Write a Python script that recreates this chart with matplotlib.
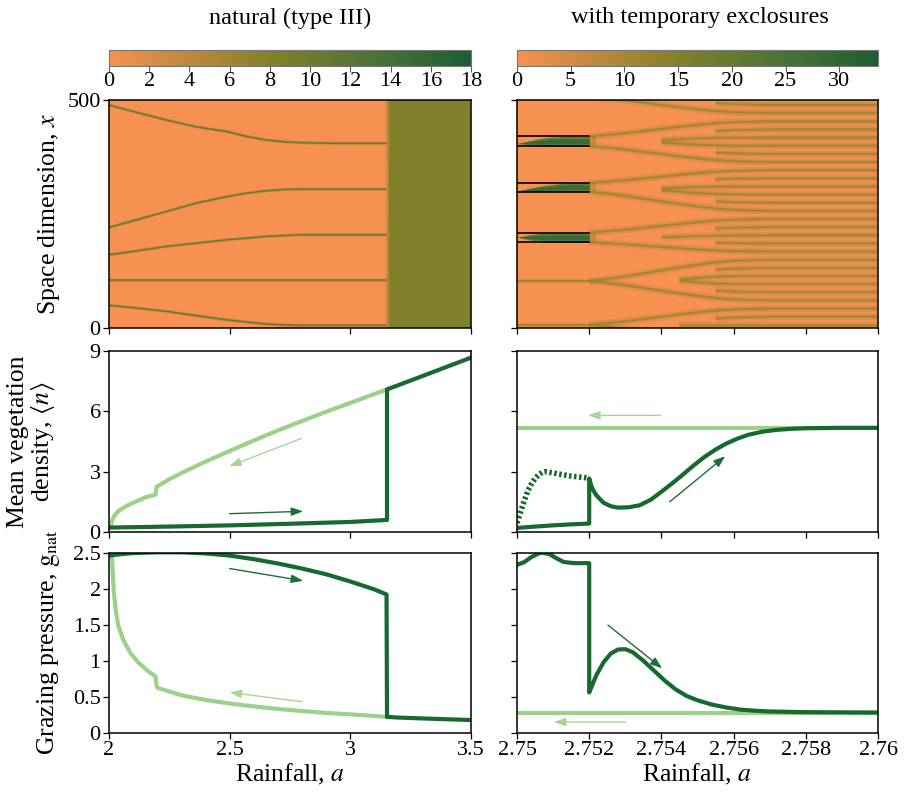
import numpy as np
import matplotlib
matplotlib.use('Agg')
import matplotlib.pyplot as plt
from matplotlib.colors import LinearSegmentedColormap, Normalize
from matplotlib.cm import ScalarMappable
from matplotlib.ticker import FuncFormatter

plt.rcParams['font.family'] = ['Liberation Serif', 'DejaVu Serif']
plt.rcParams['mathtext.fontset'] = 'stix'

N = np.nan
# ---------------- data ----------------
titles = ["natural (type III)", "with temporary exclosures"]
cbar_ticks_L = [0, 2, 4, 6, 8, 10, 12, 14, 16, 18]
cbar_max_L = 18
cbar_ticks_R = [0, 5, 10, 15, 20, 25, 30]
cbar_max_R = 33.6

# left heatmap: stripe tracks (rainfall a, position x)
stripe_a_L = [2.0, 2.113, 2.238, 2.362, 2.487, 2.570, 2.653, 2.736, 2.791, 2.929, 3.15]
stripes_x_L = [
    [489, 473, 456, 441, 431, 420, 412, 408, 406.5, 405, 405],
    [220.5, 237, 255.5, 274, 288, 295.7, 301, 304, 304.4, 304.4, 304.4],
    [160.6, 169, 179, 186, 193.5, 197, 201, 203, 204.4, 204.4, 204.4],
    [104.4, 104.4, 104.4, 104.4, 104.4, 104.4, 104.4, 104.4, 104.4, 104.4, 104.4],
    [49.6, 43.8, 36.5, 27, 18, 13, 8.8, 6.6, 5.8, 5.8, 5.8],
]
bg_a_L = [2.0, 3.145, 3.165, 3.5]
bg_val_L = [0, 0, 8.3, 8.3]

# right heatmap
exclosures = [(188, 209), (299, 318), (399, 420)]
excl_end = 2.752
wedge_a = [
    [2.75, 2.7503, 2.7506, 2.7509, 2.752],
    [2.75, 2.7503, 2.7507, 2.7511, 2.7514, 2.752],
    [2.75, 2.7503, 2.7506, 2.7509, 2.7513, 2.752],
]
wedge_lo = [
    [199, 194, 190, 188, 188],
    [300.5, 299, 299, 299, 299, 299],
    [404.5, 402, 400, 399, 399, 399],
]
wedge_hi = [
    [199, 204, 207, 209, 209],
    [300.5, 306, 312, 316, 318, 318],
    [404.5, 410, 415, 418.5, 420, 420],
]
pre_a_R = [2.75, 2.752]
pre_x_R = [7.3, 102.6]
stripe_a_R = [2.7520, 2.7525, 2.7530, 2.7535, 2.7540, 2.7545, 2.7550, 2.7555, 2.7560, 2.7570, 2.7600]
stripes_x_R = [
    [7, 10.6, 14.8, 19.8, 24.8, 29.8, 34.4, 38.3, 40.8, 42.6, 42.6],
    [7, 3.4, -0.8, -5.8, -10.8, -15.8, -20.4, -24.3, -26.8, -28.6, -28.6],
    [N, N, N, N, N, 7, 7, 7, 7, 7, 7],
    [N, N, N, N, N, N, N, 21, 23, 24.8, 24.8],
    [N, N, N, N, N, N, N, -7, -9, -10.8, -10.8],
    [103, 107.7, 113.3, 119.8, 126.4, 132.9, 139, 144.1, 147.4, 149.7, 149.7],
    [103, 98.8, 93.7, 87.7, 81.8, 75.8, 70.3, 65.6, 62.6, 60.5, 60.5],
    [N, N, N, N, N, 104, 100, 97.5, 96.5, 96.2, 96.2],
    [N, N, N, N, N, 106, 110, 112.5, 113.5, 114, 114],
    [N, N, N, N, N, N, N, 82, 80, 78.3, 78.3],
    [N, N, N, N, N, N, N, 128, 130, 131.9, 131.9],
    [209, 212, 215.6, 219.8, 224, 228.2, 232.1, 235.4, 237.5, 239, 239],
    [188, 186, 183.5, 180.7, 177.8, 175, 172.3, 170, 168.6, 167.6, 167.6],
    [N, N, N, N, 199, 200, 201.5, 202.5, 203, 203.3, 203.3],
    [N, N, N, N, N, N, N, 187, 186, 185.4, 185.4],
    [N, N, N, N, N, N, N, 218, 220, 221.1, 221.1],
    [318, 320.8, 324.2, 328.1, 332, 336, 339.6, 342.7, 344.7, 346.1, 346.1],
    [299, 294.8, 289.7, 283.8, 277.9, 272, 266.5, 261.9, 258.9, 256.8, 256.8],
    [N, N, N, N, 302, 299, 296, 294, 293, 292.5, 292.5],
    [N, N, N, N, 306, 308, 309.5, 310, 310.3, 310.4, 310.4],
    [N, N, N, N, N, N, N, 278, 276, 274.7, 274.7],
    [N, N, N, N, N, N, N, 326, 327.5, 328.2, 328.2],
    [420, 423.3, 427.3, 432, 436.6, 441.2, 445.6, 449.2, 451.5, 453.2, 453.2],
    [399, 395.5, 391.3, 386.4, 381.5, 376.5, 372, 368.1, 365.7, 363.9, 363.9],
    [N, N, N, N, 407, 404, 402, 400.5, 399.8, 399.6, 399.6],
    [N, N, N, N, 412, 414, 416, 417, 417.3, 417.5, 417.5],
    [N, N, N, N, N, N, N, 385, 383, 381.8, 381.8],
    [N, N, N, N, N, N, N, 432, 434, 435.3, 435.3],
]

# left middle: mean vegetation density
fwd_a_L = [2.0, 2.25, 2.5, 2.75, 3.0, 3.152, 3.152, 3.3, 3.5]
fwd_n_L = [0.22, 0.27, 0.33, 0.41, 0.5, 0.6, 7.09, 7.76, 8.67]
bwd_a_L = [3.152, 3.1, 3.0, 2.9, 2.8, 2.7, 2.6, 2.5, 2.4, 2.3, 2.25, 2.197, 2.195,
           2.193, 2.15, 2.1, 2.07, 2.04, 2.025, 2.015, 2.01, 2.008]
bwd_n_L = [7.09, 6.86, 6.42, 5.98, 5.52, 5.05, 4.55, 4.03, 3.5, 2.93, 2.62, 2.25, 2.05,
           1.86, 1.72, 1.45, 1.28, 1.05, 0.85, 0.65, 0.45, 0.25]
# left bottom: grazing pressure
fwd_a_Lg = [2.0, 2.05, 2.1, 2.2, 2.3, 2.4, 2.5, 2.6, 2.7, 2.8, 2.9, 3.0, 3.1, 3.15,
            3.152, 3.2, 3.3, 3.4, 3.5]
fwd_g_L = [2.46, 2.48, 2.495, 2.505, 2.505, 2.49, 2.46, 2.41, 2.35, 2.28, 2.2, 2.1,
           1.99, 1.92, 0.22, 0.21, 0.198, 0.187, 0.176]
bwd_a_Lg = [3.152, 3.0, 2.9, 2.8, 2.7, 2.6, 2.5, 2.4, 2.3, 2.2, 2.197, 2.195, 2.193,
            2.16, 2.12, 2.09, 2.06, 2.04, 2.03, 2.02, 2.014, 2.012]
bwd_g_L = [0.22, 0.255, 0.275, 0.30, 0.33, 0.365, 0.405, 0.455, 0.52, 0.625, 0.66,
           0.72, 0.78, 0.86, 0.98, 1.1, 1.28, 1.47, 1.65, 1.95, 2.3, 2.47]

# right middle
fwd_a_R = [2.75, 2.7505, 2.751, 2.7515, 2.752, 2.752, 2.75205, 2.7521, 2.7522, 2.7524,
           2.7526, 2.7528, 2.7531, 2.7534, 2.7537, 2.754, 2.7543, 2.7546, 2.7549, 2.7552,
           2.7555, 2.7558, 2.7561, 2.7564, 2.7568, 2.7572, 2.7576, 2.758, 2.759, 2.76]
fwd_n_R = [0.2, 0.27, 0.33, 0.38, 0.42, 2.66, 2.35, 2.12, 1.82, 1.45, 1.28, 1.21, 1.23,
           1.33, 1.6, 2.0, 2.42, 2.86, 3.32, 3.74, 4.1, 4.4, 4.64, 4.83, 4.99, 5.08,
           5.13, 5.16, 5.18, 5.18]
dot_a_R = [2.75, 2.7501, 2.7502, 2.7503, 2.7504, 2.7505, 2.7506, 2.7507, 2.7508, 2.751,
           2.7512, 2.7515, 2.7518, 2.752]
dot_n_R = [0.45, 1.0, 1.55, 2.05, 2.4, 2.66, 2.85, 2.97, 3.0, 2.94, 2.87, 2.78, 2.72, 2.68]
bwd_a_R = [2.75, 2.76]
bwd_n_R = [5.18, 5.18]
# right bottom
fwd_a_Rg = [2.75, 2.7502, 2.7504, 2.7506, 2.7507, 2.7509, 2.7511, 2.7513, 2.7516, 2.752,
            2.752, 2.7521, 2.7522, 2.7524, 2.7526, 2.7528, 2.753, 2.7532, 2.7535, 2.7538,
            2.7541, 2.7544, 2.7547, 2.755, 2.7554, 2.7558, 2.7562, 2.7566, 2.757, 2.758, 2.76]
fwd_g_R = [2.33, 2.37, 2.44, 2.49, 2.5, 2.48, 2.42, 2.37, 2.355, 2.355, 0.56, 0.68, 0.8,
           0.98, 1.1, 1.155, 1.16, 1.12, 1.0, 0.86, 0.72, 0.6, 0.51, 0.45, 0.39, 0.35,
           0.32, 0.305, 0.295, 0.285, 0.28]
bwd_a_Rg = [2.75, 2.76]
bwd_g_R = [0.28, 0.28]

# arrows: (start, end)
arrows = {
    'Ln_light': ((2.797, 4.65), (2.498, 3.27)),
    'Ln_dark': ((2.5, 0.91), (2.804, 1.03)),
    'Lg_dark': ((2.5, 2.28), (2.804, 2.11)),
    'Lg_light': ((2.8, 0.43), (2.5, 0.56)),
    'Rn_light': ((2.75398, 5.8), (2.75197, 5.8)),
    'Rn_dark': ((2.75423, 1.5), (2.75577, 3.77)),
    'Rg_dark': ((2.75252, 1.495), (2.75402, 0.894)),
    'Rg_light': ((2.753, 0.148), (2.75102, 0.148)),
}

xticks_L = [2, 2.5, 3, 3.5]
xticks_R = [2.75, 2.752, 2.754, 2.756, 2.758, 2.76]
yticks_top = [0, 500]
yticks_mid = [0, 3, 6, 9]
yticks_bot = [0, 0.5, 1, 1.5, 2, 2.5]

# ---------------- style ----------------
cmap = LinearSegmentedColormap.from_list(
    'veg', [(0, '#F79152'), (0.45, '#82802A'), (0.72, '#4E7437'), (1, '#1D5E33')])
DARK = '#17692F'
LIGHT = '#9DD18B'
TICK_FS = 16
XLAB_FS = 18.5
YLAB_FS = 18.5

fig = plt.figure(figsize=(9.05, 7.96), dpi=100)
W, H = 905.0, 796.0

def axrect(x0, x1, y0, y1):
    return [x0 / W, 1 - y1 / H, (x1 - x0) / W, (y1 - y0) / H]

colx = [(109, 471), (517, 878)]
ax_top = [fig.add_axes(axrect(*colx[i], 100, 328)) for i in range(2)]
ax_mid = [fig.add_axes(axrect(*colx[i], 351, 532)) for i in range(2)]
ax_bot = [fig.add_axes(axrect(*colx[i], 552.7, 732.7)) for i in range(2)]
cax = [fig.add_axes(axrect(*colx[i], 50, 65.5)) for i in range(2)]

fmt = FuncFormatter(lambda v, p: '%g' % v)

for ax in ax_top + ax_mid + ax_bot:
    ax.tick_params(direction='out', length=4, width=0.9, labelsize=TICK_FS, pad=2)
    for s in ax.spines.values():
        s.set_linewidth(1.1)
    ax.xaxis.set_major_formatter(fmt)
    ax.yaxis.set_major_formatter(fmt)

# colorbars
normL = Normalize(0, cbar_max_L)
normR = Normalize(0, cbar_max_R)
for c, nrm, tks in [(cax[0], normL, cbar_ticks_L), (cax[1], normR, cbar_ticks_R)]:
    cb = fig.colorbar(ScalarMappable(norm=nrm, cmap=cmap), cax=c, orientation='horizontal')
    cb.set_ticks(tks)
    cb.ax.tick_params(direction='out', length=4, width=0.8, labelsize=TICK_FS, pad=1,
                      color='#555555')
    cb.outline.set_edgecolor('#777777')
    cb.outline.set_linewidth(0.8)

# ---- left heatmap
ax = ax_top[0]
Xg, Yg = np.meshgrid(bg_a_L, [0, 500])
Cg = np.vstack([bg_val_L, bg_val_L])
ax.pcolormesh(Xg, Yg, Cg, cmap=cmap, norm=normL, shading='gouraud')
scol = cmap(normL(10.5))
for xs in stripes_x_L:
    ax.plot(stripe_a_L, xs, color=scol, lw=2.4, alpha=0.3, solid_capstyle='butt')
    ax.plot(stripe_a_L, xs, color=scol, lw=1.1, solid_capstyle='butt')
ax.set_xlim(2, 3.5)
ax.set_ylim(0, 500)
ax.set_xticks(xticks_L)
ax.set_xticklabels([])
ax.set_yticks(yticks_top)
ax.set_ylabel('Space dimension, $x$', fontsize=YLAB_FS)

# ---- right heatmap
ax = ax_top[1]
ax.set_facecolor(cmap(0.0))
scolR = cmap(normR(13))
for xs in stripes_x_R:
    xs = np.array(xs, dtype=float)
    for sh in (-500, 0, 500):
        ax.plot(stripe_a_R, xs + sh, color=scolR, lw=5.0, alpha=0.22, solid_capstyle='butt')
        ax.plot(stripe_a_R, xs + sh, color=scolR, lw=2.4, alpha=0.35, solid_capstyle='butt')
        ax.plot(stripe_a_R, xs + sh, color=scolR, lw=1.0, alpha=0.7, solid_capstyle='butt')
for xp in pre_x_R:
    ax.plot(pre_a_R, [xp, xp], color=scolR, lw=2.8, alpha=0.3)
    ax.plot(pre_a_R, [xp, xp], color=scolR, lw=1.1, alpha=0.9)
for (lo, hi), wa, wl, wh in zip(exclosures, wedge_a, wedge_lo, wedge_hi):
    ax.fill_between([excl_end, 2.7522], [lo, lo], [hi, hi], color=cmap(0.5), alpha=0.35, lw=0)
    ax.fill_between(wa, wl, wh, color=cmap(0.62), lw=0)
    mid_lo = [l + (h - l) * 0.25 for l, h in zip(wl, wh)]
    mid_hi = [l + (h - l) * 0.75 for l, h in zip(wl, wh)]
    ax.fill_between(wa, mid_lo, mid_hi, color=cmap(0.85), lw=0)
    ax.plot([2.75, excl_end], [lo, lo], color='black', lw=1.2)
    ax.plot([2.75, excl_end], [hi, hi], color='black', lw=1.2)
ax.set_xlim(2.75, 2.76)
ax.set_ylim(0, 500)
ax.set_xticks(xticks_R)
ax.set_xticklabels([])
ax.set_yticks(yticks_top)
ax.set_yticklabels([])

# ---- middle panels
LW = 3.0
ax = ax_mid[0]
ax.plot(bwd_a_L, bwd_n_L, color=LIGHT, lw=LW, solid_joinstyle='round')
ax.plot(fwd_a_L, fwd_n_L, color=DARK, lw=LW, solid_joinstyle='round')
ax.set_xlim(2, 3.5)
ax.set_ylim(0, 9)
ax.set_xticks(xticks_L)
ax.set_xticklabels([])
ax.set_yticks(yticks_mid)
ax.set_ylabel('Mean vegetation\ndensity, $\\langle n\\rangle$', fontsize=YLAB_FS,
              linespacing=0.95)

ax = ax_mid[1]
ax.plot(bwd_a_R, bwd_n_R, color=LIGHT, lw=LW)
ax.plot(dot_a_R, dot_n_R, color=DARK, lw=4.0, linestyle=(0, (0.45, 0.45)))
ax.plot(fwd_a_R, fwd_n_R, color=DARK, lw=LW, solid_joinstyle='round')
ax.set_xlim(2.75, 2.76)
ax.set_ylim(0, 9)
ax.set_xticks(xticks_R)
ax.set_xticklabels([])
ax.set_yticks(yticks_mid)
ax.set_yticklabels([])

# ---- bottom panels
ax = ax_bot[0]
ax.plot(bwd_a_Lg, bwd_g_L, color=LIGHT, lw=LW, solid_joinstyle='round')
ax.plot(fwd_a_Lg, fwd_g_L, color=DARK, lw=LW, solid_joinstyle='round')
ax.set_xlim(2, 3.5)
ax.set_ylim(0, 2.5)
ax.set_xticks(xticks_L)
ax.set_yticks(yticks_bot)
ax.set_ylabel('Grazing pressure, $\\mathrm{g}_{\\mathrm{nat}}$', fontsize=YLAB_FS)
ax.set_xlabel('Rainfall, $a$', fontsize=XLAB_FS, labelpad=1)

ax = ax_bot[1]
ax.plot(bwd_a_Rg, bwd_g_R, color=LIGHT, lw=LW)
ax.plot(fwd_a_Rg, fwd_g_R, color=DARK, lw=LW, solid_joinstyle='round')
ax.set_xlim(2.75, 2.76)
ax.set_ylim(0, 2.5)
ax.set_xticks(xticks_R)
ax.set_yticks(yticks_bot)
ax.set_yticklabels([])
ax.set_xlabel('Rainfall, $a$', fontsize=XLAB_FS, labelpad=1)

# arrows
arrow_axes = {'Ln': ax_mid[0], 'Lg': ax_bot[0], 'Rn': ax_mid[1], 'Rg': ax_bot[1]}
for key, (s, e) in arrows.items():
    a = arrow_axes[key[:2]]
    col = '#1E6E38' if key.endswith('dark') else '#A5D697'
    a.annotate('', xy=e, xytext=s,
               arrowprops=dict(arrowstyle='-|>,head_length=0.7,head_width=0.25',
                               color=col, lw=1.0, shrinkA=0, shrinkB=0))

# label positions
ax_top[0].yaxis.set_label_coords(-0.13, 0.5)
ax_mid[0].yaxis.set_label_coords(-0.145, 0.5)
ax_bot[0].yaxis.set_label_coords(-0.13, 0.5)

fig.text(290 / W, 1 - 18 / H, titles[0], ha='center', va='center', fontsize=17.5)
fig.text(700 / W, 1 - 18 / H, titles[1], ha='center', va='center', fontsize=17.5)

fig.savefig('out.png', dpi=100)
